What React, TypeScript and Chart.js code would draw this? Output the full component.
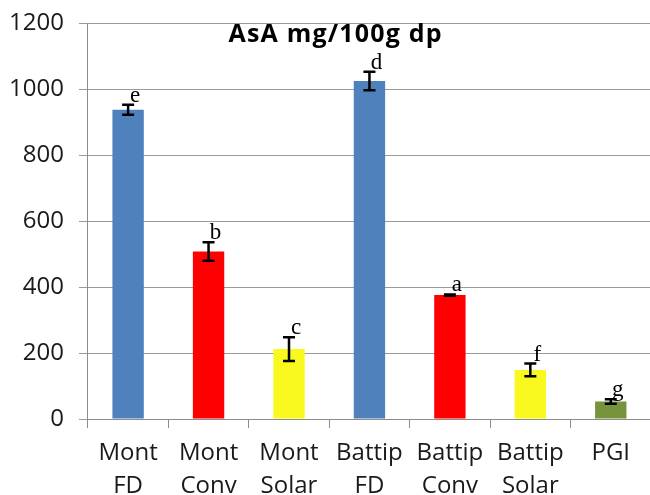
import React, { useEffect, useRef } from "react";
import { Chart, registerables } from "chart.js";

Chart.register(...registerables);

const categories: string[][] = [
  ["Mont", "FD"],
  ["Mont", "Conv"],
  ["Mont", "Solar"],
  ["Battip", "FD"],
  ["Battip", "Conv"],
  ["Battip", "Solar"],
  ["PGI"],
];
const values: number[] = [938, 508, 212, 1025, 376, 149, 53];
const errors: number[] = [15, 28, 36, 28, 2, 19, 7];
const letters: string[] = ["e", "b", "c", "d", "a", "f", "g"];
const barColors: string[] = ["#4F81BD", "#FF0000", "#F9F920", "#4F81BD", "#FF0000", "#F9F920", "#77933C"];
const yTicks: number[] = [0, 200, 400, 600, 800, 1000, 1200];
const titleText = "AsA mg/100g dp";

const FONT = "'Open Sans', 'Liberation Sans', sans-serif";

const errorBarPlugin = {
  id: "errorBars",
  afterDatasetsDraw(chart: any) {
    const ctx = chart.ctx;
    const meta = chart.getDatasetMeta(0);
    const y = chart.scales.y;
    ctx.save();
    ctx.strokeStyle = "#000";
    ctx.lineWidth = 2.5;
    meta.data.forEach((bar: any, i: number) => {
      const top = y.getPixelForValue(values[i] + errors[i]);
      const bot = y.getPixelForValue(values[i] - errors[i]);
      const x = bar.x;
      ctx.beginPath();
      ctx.moveTo(x, top);
      ctx.lineTo(x, bot);
      ctx.moveTo(x - 6, top);
      ctx.lineTo(x + 6, top);
      ctx.moveTo(x - 6, bot);
      ctx.lineTo(x + 6, bot);
      ctx.stroke();
      // significance letter
      ctx.fillStyle = "#000";
      ctx.font = "23px 'Liberation Serif', 'Times New Roman', serif";
      ctx.textAlign = "center";
      ctx.textBaseline = "alphabetic";
      ctx.fillText(letters[i], x + 7, top - 3);
    });
    // title
    const area = chart.chartArea;
    ctx.font = `bold 25px ${FONT}`;
    try {
      (ctx as any).letterSpacing = "1.2px";
    } catch (e) {}
    ctx.textAlign = "center";
    ctx.fillStyle = "#000";
    ctx.fillText(titleText, area.left + (area.right - area.left) * 0.44, 42);
    ctx.restore();
  },
};

export default function App() {
  const ref = useRef<HTMLCanvasElement>(null);
  useEffect(() => {
    if (!ref.current) return;
    const chart = new Chart(ref.current, {
      type: "bar",
      data: {
        labels: categories,
        datasets: [
          {
            data: values,
            backgroundColor: barColors,
            barPercentage: 0.39,
            categoryPercentage: 1,
          },
        ],
      },
      options: {
        animation: false,
        responsive: true,
        maintainAspectRatio: false,
        layout: { padding: { left: -6, right: 4, top: 0, bottom: -17 } },
        plugins: {
          legend: { display: false },
          tooltip: { enabled: false },
          title: { display: false },
        },
        scales: {
          x: {
            offset: true,
            grid: {
              offset: true,
              drawOnChartArea: false,
              tickLength: 9,
              color: "#8c8c8c",
            },
            border: { color: "#8c8c8c" },
            ticks: {
              color: "#1a1a1a",
              font: { family: FONT, size: 24, lineHeight: 1.375 },
              padding: 9,
              maxRotation: 0,
              autoSkip: false,
            },
          },
          y: {
            min: 0,
            max: 1200,
            afterBuildTicks: (scale: any) => {
              scale.ticks = yTicks.map((v) => ({ value: v }));
            },
            grid: { color: "#9a9a9a", tickLength: 9 },
            border: { color: "#8c8c8c" },
            ticks: {
              color: "#1a1a1a",
              font: { family: FONT, size: 24, lineHeight: 0.7 },
              padding: 15,
              callback: (v: any) => String(v),
            },
          },
        },
      },
      plugins: [errorBarPlugin],
    });
    return () => chart.destroy();
  }, []);
  return (
    <div style={{ position: "absolute", left: 0, top: 0, width: 650, height: 495, overflow: "hidden", background: "#fff" }}>
      <div style={{ position: "relative", width: 655, height: 495 }}>
        <canvas ref={ref} />
      </div>
    </div>
  );
}
